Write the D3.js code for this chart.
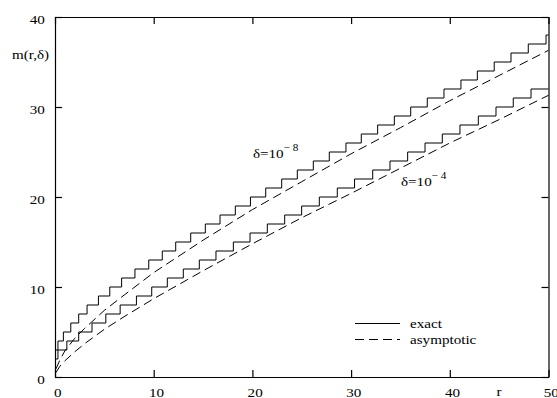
<!DOCTYPE html>
<html>
<head>
<meta charset="utf-8">
<script src="https://cdn.jsdelivr.net/npm/d3@7"></script>
<style>
  body { margin:0; background:#fff; }
  text { font-family:"Liberation Serif","Times New Roman",serif; fill:#000; }
</style>
</head>
<body>
<div id="content"></div>
<script>
// exact m(r,delta): r where the step starts, and the integer level from there on
const exact8R = [0, 0.3, 0.85, 1.6, 2.4, 3.25, 4.4, 5.55, 6.75, 8.1, 9.5, 10.87, 12.23, 13.75, 15.23, 16.72, 18.27, 19.8,
                 21.35, 22.97, 24.55, 26.17, 27.79, 29.48, 31.03, 32.69, 34.38, 36.04, 37.72, 39.41, 41.13, 42.79, 44.5, 46.2, 47.95, 49.75];
const exact8M = [3, 4, 5, 6, 7, 8, 9, 10, 11, 12, 13, 14, 15, 16, 17, 18, 19, 20,
                 21, 22, 23, 24, 25, 26, 27, 28, 29, 30, 31, 32, 33, 34, 35, 36, 37, 38];
const exact4R = [0, 0.3, 1.2, 2.4, 3.75, 5.15, 6.6, 8.25, 9.8, 11.38, 13.0, 14.62, 16.31, 18.07, 19.76,
                 21.51, 23.27, 24.99, 26.78, 28.6, 30.35, 32.19, 33.94, 35.73, 37.49, 39.24, 41.03, 42.89, 44.68, 46.43, 48.23];
const exact4M = [2, 3, 4, 5, 6, 7, 8, 9, 10, 11, 12, 13, 14, 15, 16,
                 17, 18, 19, 20, 21, 22, 23, 24, 25, 26, 27, 28, 29, 30, 31, 32];

// asymptotic curves
const asymR  = [0.1, 0.5, 1, 2, 3, 5, 7, 10, 15, 20, 25, 30, 35, 40, 45, 50];
const asym8M = [0.9, 1.9, 2.9, 4.3, 5.4, 7.4, 9.1, 11.6, 15.2, 18.6, 21.7, 24.8, 27.7, 30.7, 33.5, 36.3];
const asym4M = [0.5, 1.2, 1.8, 2.8, 3.7, 5.3, 6.7, 8.7, 11.8, 14.8, 17.7, 20.4, 23.2, 26.0, 28.6, 31.3];

const xTicks = [0, 10, 20, 30, 40, 50];
const yTicks = [0, 10, 20, 30, 40];

//////////////////// drawing area
const W = 557, H = 398;
const margin = { left:55, right:8.5, top:17, bottom:21 };
const iW = W - margin.left - margin.right;
const iH = H - margin.top - margin.bottom;
const stretch = "scale(1.12,1)";   // the original lettering is a bit wide

const x = d3.scaleLinear().domain([0, 50]).range([0, iW]);
const y = d3.scaleLinear().domain([0, 40]).range([iH, 0]);

const svg = d3.select("#content")
    .append("svg")
    .attr("width", W)
    .attr("height", H);

svg.append("rect")
    .attr("width", W)
    .attr("height", H)
    .attr("fill", "#fff");

const diagram = svg.append("g")
    .attr("transform", "translate(" + margin.left + "," + margin.top + ")");

// step curves (end at r=50 on the last level)
const stepLine = d3.line()
    .x(d => x(d[0]))
    .y(d => y(d[1]))
    .curve(d3.curveStepAfter);
const smoothLine = d3.line()
    .x(d => x(d[0]))
    .y(d => y(d[1]));

const exactSets = [[exact8R, exact8M], [exact4R, exact4M]];
exactSets.forEach(([rs, ms]) => {
    const pts = rs.map((r, i) => [r, ms[i]]);
    pts.push([50, ms[ms.length - 1]]);
    diagram.append("path")
        .attr("d", stepLine(pts))
        .attr("fill", "none")
        .attr("stroke", "#000")
        .attr("stroke-width", 1);
});

[asym8M, asym4M].forEach(ms => {
    diagram.append("path")
        .attr("d", smoothLine(asymR.map((r, i) => [r, ms[i]])))
        .attr("fill", "none")
        .attr("stroke", "#000")
        .attr("stroke-width", 1)
        .attr("stroke-dasharray", "9,5");
});

// frame and inward ticks
const styleAxis = g => {
    g.selectAll("path, line").attr("stroke", "#000").attr("stroke-width", 1.2);
    g.selectAll("text").attr("font-size", 13.5).attr("font-family", null);
};

diagram.append("g")
    .attr("transform", "translate(0," + iH + ")")
    .call(d3.axisBottom(x).tickValues(xTicks).tickSize(-7).tickSizeOuter(0).tickPadding(10))
    .call(styleAxis)
    .call(g => g.selectAll("text").attr("dx", 2).attr("transform", stretch));

diagram.append("g")
    .call(d3.axisLeft(y).tickValues(yTicks).tickSize(-7).tickSizeOuter(0).tickPadding(9))
    .call(styleAxis)
    .call(g => g.selectAll("text").attr("dy", "0.48em").attr("transform", stretch));

diagram.append("g")
    .call(d3.axisTop(x).tickValues(xTicks).tickSize(-7).tickSizeOuter(0).tickFormat(""))
    .call(styleAxis);

diagram.append("g")
    .attr("transform", "translate(" + iW + ",0)")
    .call(d3.axisRight(y).tickValues(yTicks).tickSize(-7).tickSizeOuter(0).tickFormat(""))
    .call(styleAxis);

// labels
function label(px, py, txt, size, anchor) {
    return svg.append("g")
        .attr("transform", "translate(" + px + "," + py + ") " + stretch)
        .append("text")
        .attr("font-size", size)
        .attr("text-anchor", anchor || "start")
        .text(txt);
}

label(12, 59, "m(r,δ)", 13.5);
label(499, 396, "r", 13.5, "middle");

function deltaLabel(r, m, power) {
    const t = label(x(r) + margin.left, y(m) + margin.top, "δ=10", 13.5);
    t.append("tspan").attr("dy", -7).attr("font-size", 10).text("− " + power);
}
deltaLabel(20.05, 24.3, 8);
deltaLabel(35.05, 21.2, 4);

// legend
const legend = svg.append("g");
[["exact", null, 323.5], ["asymptotic", "9,5", 339.5]].forEach(([name, dash, ly]) => {
    legend.append("line")
        .attr("x1", 355).attr("x2", 400)
        .attr("y1", ly).attr("y2", ly)
        .attr("stroke", "#000")
        .attr("stroke-width", 1)
        .attr("stroke-dasharray", dash);
    label(410, ly + 4, name, 13.5);
});
</script>
</body>
</html>
